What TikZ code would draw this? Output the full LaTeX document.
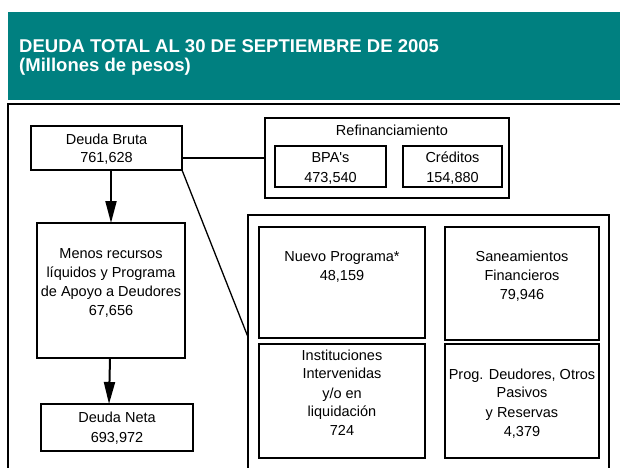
\documentclass[tikz,border=0pt]{standalone}
\usepackage{fontspec}
\setmainfont{Liberation Sans}
\usetikzlibrary{arrows.meta,calc}
\definecolor{tealband}{RGB}{0,128,128}
\begin{document}
\begin{tikzpicture}[x=1pt,y=-1pt,
  box/.style={draw,line width=1.4pt,rectangle,inner sep=0pt,outer sep=0pt,anchor=north west},
  txt/.style={anchor=base,align=center,inner sep=0pt,font=\fontsize{14.5}{19}\selectfont},
  arr/.style={line width=2pt,-{Triangle[length=22pt,width=11pt]}},
  conn/.style={line width=1.3pt},
  ttl/.style={anchor=base west,inner sep=0pt,text=white,font=\bfseries\fontsize{18.5}{19}\selectfont}]
\useasboundingbox (0,0) rectangle (620,467);
\clip (0,0) rectangle (620,467);
% title band
\fill[tealband] (8,12) rectangle (630,100);
\node[ttl] (title1) at (19,52) {DEUDA TOTAL AL 30 DE SEPTIEMBRE DE 2005};
\node[ttl] (title2) at (19,71) {(Millones de pesos)};
% outer frame
\draw[line width=1.6pt] (8,490) -- (8,104) -- (640,104);
% boxes
\node[box,minimum width=151pt,minimum height=44pt] (db) at (31,126) {};
\node[box,minimum width=244pt,minimum height=80pt] (refin) at (265,118) {};
\node[box,minimum width=111pt,minimum height=41pt] (bpa) at (275,146) {};
\node[box,minimum width=99pt,minimum height=41pt] (cred) at (403,146) {};
\node[box,minimum width=361pt,minimum height=275pt] (big) at (248,215) {};
\node[box,minimum width=166pt,minimum height=111pt] (nuevo) at (259,227) {};
\node[box,minimum width=154pt,minimum height=113pt] (sanea) at (445,227) {};
\node[box,minimum width=166pt,minimum height=114pt] (inst) at (259,344) {};
\node[box,minimum width=154pt,minimum height=114pt] (prog) at (445,344) {};
\node[box,minimum width=148pt,minimum height=135pt] (menos) at (37,223) {};
\node[box,minimum width=152pt,minimum height=47pt] (neta) at (41,404) {};
% texts (anchored at the baseline of the last line)
\node[txt] (tdb) at (106.5,162) {Deuda Bruta\\[-1pt]761,628};
\node[txt] (trefin) at (392,135) {Refinanciamiento};
\node[txt] (tbpa) at (330.5,182) {BPA\textquotesingle s\\[1pt]473,540};
\node[txt] (tcred) at (452.5,182) {Créditos\\[1pt]154,880};
\node[txt] (tmenos) at (111,315) {Menos recursos\\líquidos y Programa\\de Apoyo a Deudores\\67,656};
\node[txt] (tneta) at (117,442) {Deuda Neta\\[1pt]693,972};
\node[txt] (tnuevo) at (342,280) {Nuevo Programa*\\48,159};
\node[txt] (tsanea) at (522,299) {Saneamientos\\Financieros\\79,946};
\node[txt,font=\fontsize{14.5}{18.3}\selectfont] (tinst) at (342,435) {Instituciones\\Intervenidas\\[1.5pt]y/o en\\liquidación\\724};
\node[txt,font=\fontsize{14.5}{18.3}\selectfont] (tprog) at (522,436) {Prog. Deudores, Otros\\Pasivos\\[1.5pt]y Reservas\\4,379};
% connectors
\draw[arr] (menos.north |- db.south) -- (menos.north);
\draw[arr] ([xshift=-1pt]menos.south) -- ([xshift=-2pt]menos.south |- neta.north);
\draw[conn] (db.east |- refin.west) -- (refin.west);
\draw[conn] (db.south east) -- ([yshift=-122pt]big.north west);
\end{tikzpicture}
\end{document}
